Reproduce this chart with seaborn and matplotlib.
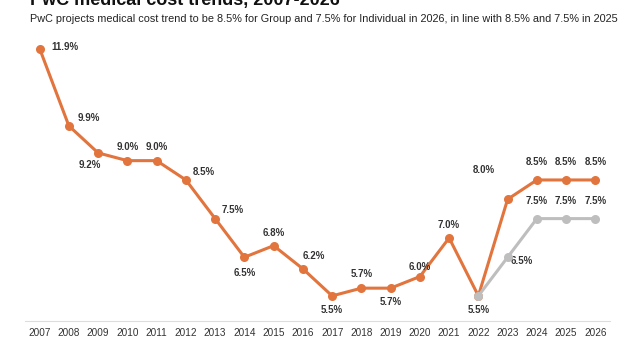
import matplotlib
matplotlib.use("Agg")
import matplotlib.pyplot as plt
import seaborn as sns
import pandas as pd

years = list(range(2007, 2027))
group = [11.9, 9.9, 9.2, 9.0, 9.0, 8.5, 7.5, 6.5, 6.8, 6.2, 5.5, 5.7, 5.7, 6.0, 7.0, 5.5, 8.0, 8.5, 8.5, 8.5]
ind_years = [2022, 2023, 2024, 2025, 2026]
individual = [5.5, 6.5, 7.5, 7.5, 7.5]

# label offsets in points (dx, dy)
group_offsets = [(18, 1), (14, 6), (-6, -9), (0, 10), (0, 10), (13, 6), (13, 6), (0, -11), (0, 9), (8, 9),
                 (0, -10), (0, 10), (0, -10), (0, 7), (0, 9), (None, None), (-17, 21), (0, 13), (0, 13), (0, 13)]
ind_offsets = [(0, -10), (10, -3), (0, 13), (0, 13), (0, 13)]

ORANGE = "#E2743D"
GRAY = "#BEBEBE"

sns.set_theme(style="white")
plt.rcParams['font.family'] = ['Liberation Sans', 'DejaVu Sans']

fig = plt.figure(figsize=(6.3, 3.5), dpi=100)
ax = fig.add_axes([25/630, 1 - 321/350, 585/630, (321 - 37)/350])

df_g = pd.DataFrame({"year": years, "value": group})
df_i = pd.DataFrame({"year": ind_years, "value": individual})

sns.lineplot(data=df_g, x="year", y="value", ax=ax, color=ORANGE, linewidth=2.2,
             marker="o", markersize=6.5, markeredgewidth=0, zorder=3)
sns.lineplot(data=df_i, x="year", y="value", ax=ax, color=GRAY, linewidth=2.2,
             marker="o", markersize=6.5, markeredgewidth=0, zorder=4)

for x, y, (dx, dy) in zip(years, group, group_offsets):
    if dx is None:
        continue
    ax.annotate(f"{y:.1f}%", (x, y), xytext=(dx, dy), textcoords="offset points",
                ha="center", va="center", fontsize=7, fontweight="bold", color="#333333")
for x, y, (dx, dy) in zip(ind_years, individual, ind_offsets):
    ax.annotate(f"{y:.1f}%", (x, y), xytext=(dx, dy), textcoords="offset points",
                ha="center", va="center", fontsize=7, fontweight="bold", color="#333333")

ax.set_xlim(2006.5, 2026.5)
ax.set_ylim(4.85, 12.2)
ax.set_xticks(years)
ax.set_xticklabels([str(y) for y in years], fontsize=7.2, color="#333333")
ax.set_yticks([])
ax.set_xlabel("")
ax.set_ylabel("")
ax.tick_params(axis="x", length=0, pad=5)
for s in ["top", "right", "left"]:
    ax.spines[s].set_visible(False)
ax.spines["bottom"].set_color("#DDDDDD")
ax.spines["bottom"].set_linewidth(0.8)

fig.text(30/630, 1 - 0/350, "PwC medical cost trends, 2007-2026", fontsize=13, fontweight="bold",
         ha="left", va="center", color="#111111")
fig.text(30/630, 1 - 19/350,
         "PwC projects medical cost trend to be 8.5% for Group and 7.5% for Individual in 2026, in line with 8.5% and 7.5% in 2025",
         fontsize=7.85, ha="left", va="center", color="#222222")

fig.savefig("out.png", dpi=100)
